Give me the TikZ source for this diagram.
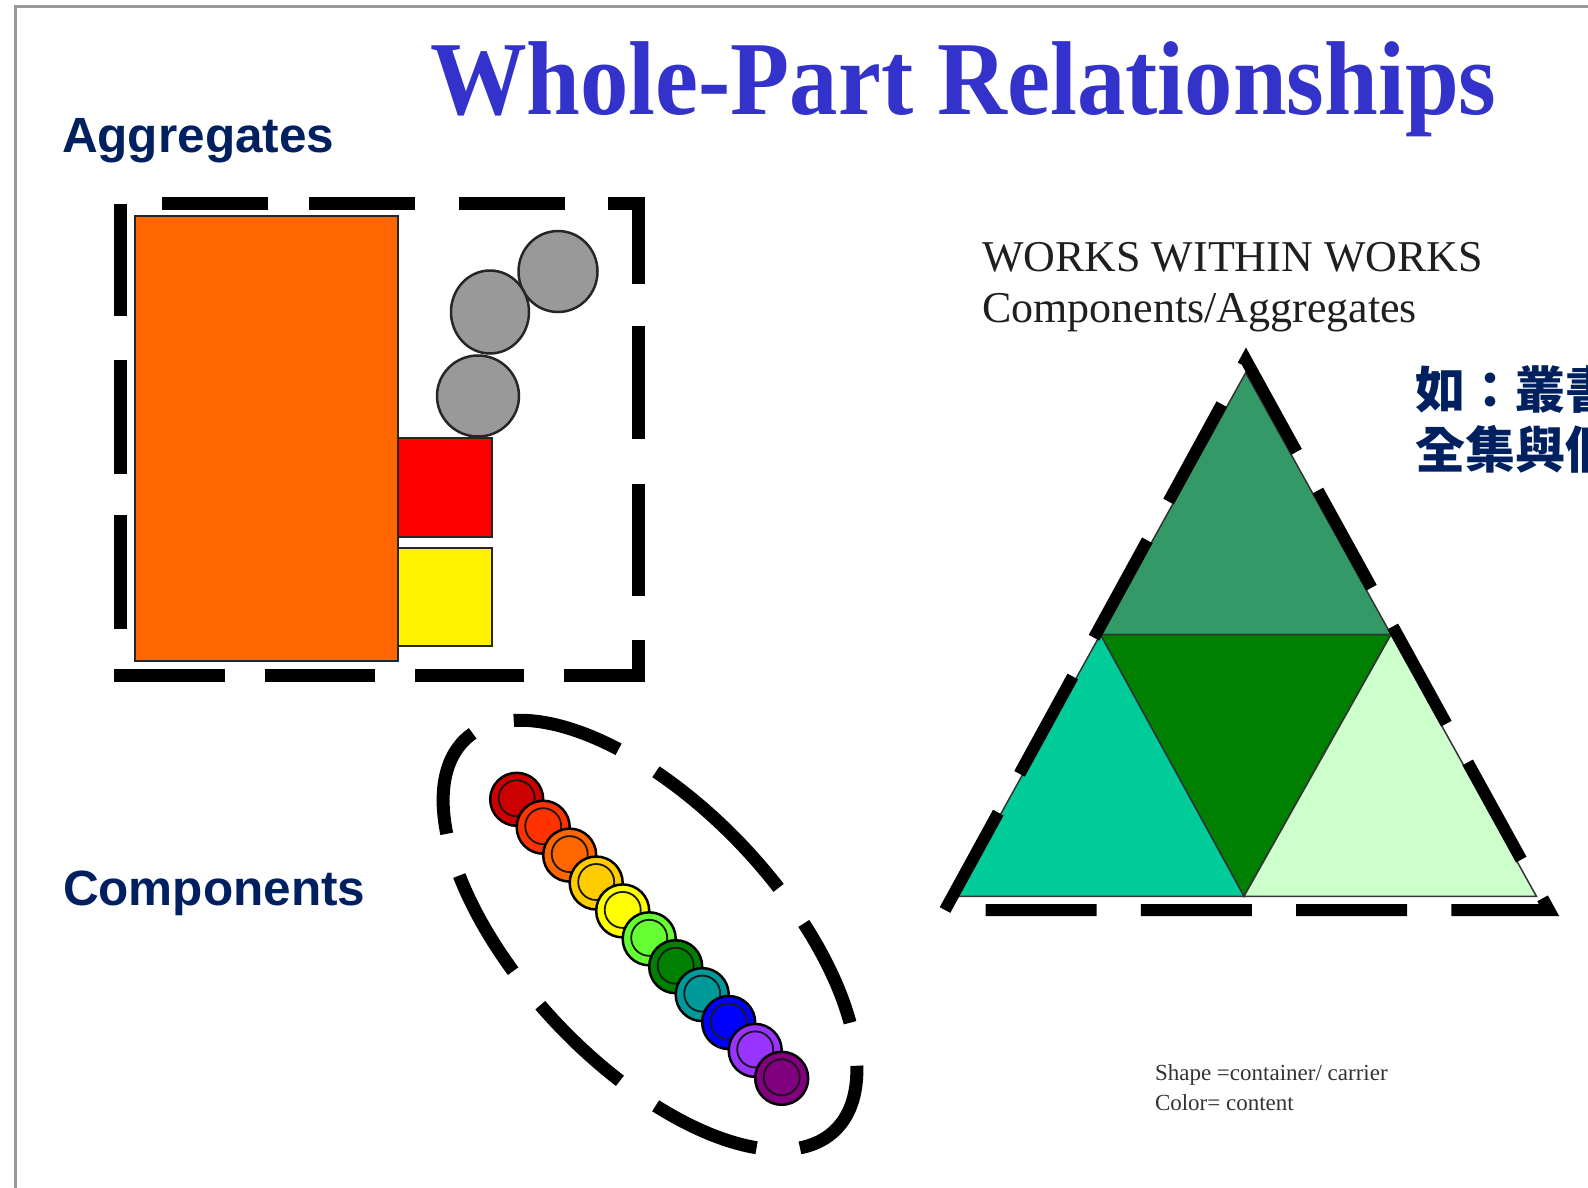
\documentclass[tikz,border=0pt]{standalone}
\usepackage{fontspec}
\setmainfont{Liberation Serif}
\setsansfont{Liberation Sans}
\newfontfamily\cjkfont{Noto Sans CJK TC}
\usetikzlibrary{calc}
\definecolor{titleblue}{RGB}{51,51,204}
\definecolor{navy}{RGB}{0,32,96}
\definecolor{orangebox}{RGB}{255,102,0}
\definecolor{grayball}{RGB}{153,153,153}
\definecolor{tritop}{RGB}{51,153,102}
\definecolor{trimid}{RGB}{0,128,0}
\definecolor{trileft}{RGB}{0,204,153}
\definecolor{triright}{RGB}{204,255,204}
\definecolor{bA}{RGB}{204,0,0}
\definecolor{bB}{RGB}{255,51,0}
\definecolor{bC}{RGB}{255,102,0}
\definecolor{bD}{RGB}{255,204,0}
\definecolor{bE}{RGB}{255,255,0}
\definecolor{bF}{RGB}{102,255,51}
\definecolor{bG}{RGB}{0,128,0}
\definecolor{bH}{RGB}{0,153,153}
\definecolor{bI}{RGB}{0,0,255}
\definecolor{bJ}{RGB}{153,51,255}
\definecolor{bK}{RGB}{128,0,128}
\tikzset{
  dashline/.style={line width=13pt, line join=miter,
    dash pattern=on 110.8pt off 40.6pt on 109.3pt off 40.5pt on 108.4pt off 40.5pt on 109.4pt off 44.5pt
      on 111.4pt off 45.6pt on 112.4pt off 42.5pt on 110.4pt off 42.6pt on 106.3pt off 43.6pt
      on 106.3pt off 40.5pt on 106.4pt off 41.5pt on 112.4pt off 43.5pt on 114.5pt off 40.5pt
      on 114pt off 60pt},
  partbox/.style={draw=black!85, line width=2pt},
  ball/.style={draw=black!85, line width=2.5pt, fill=grayball},
  tri/.style={draw=black!80, line width=1.5pt},
  beadout/.style={draw=black, line width=2.5pt},
  beadin/.style={draw=black!90, line width=1.8pt},
  lbl/.style={anchor=base west, inner sep=0pt, outer sep=0pt},
}
\begin{document}
\begin{tikzpicture}[x=1pt,y=-1pt]
\useasboundingbox (0,0) rectangle (1588,1187);
\clip (0,0) rectangle (1588,1187);
\fill[white] (0,0) rectangle (1588,1187);
% slide frame
\draw[gray!80, line width=3pt] (15,1195) -- (15,6) -- (1595,6);

% title
\node[lbl, text=titleblue, font=\rmfamily\bfseries\fontsize{105}{105}\selectfont] (title) at (430,114)
  {\scalebox{0.921}[1]{Whole-Part Relationships}};
\node[lbl, text=navy, font=\sffamily\bfseries\fontsize{49.5}{49.5}\selectfont] (agg) at (62,152) {Aggregates};
\node[lbl, text=navy, font=\sffamily\bfseries\fontsize{49.5}{49.5}\selectfont] (comp) at (63,905) {Components};

% aggregates box
\draw[partbox, fill=orangebox] (134.7,215.7) rectangle (398,661);
\draw[partbox, fill=red] (398,437.5) rectangle (492,537);
\draw[partbox, fill=yellow] (398,548) rectangle (492,646);
\draw[ball] (558,271.5) ellipse [x radius=39.5, y radius=40.5];
\draw[ball] (490,312) ellipse [x radius=39, y radius=41.5];
\draw[ball] (478,396) ellipse [x radius=41, y radius=40.5];
\coordinate (rbl0) at (114,675.5);
\coordinate (rbl) at (120.5,675.5);
\coordinate (rbr) at (638,675.5);
\coordinate (rtr) at (638,203.6);
\coordinate (rtl) at (120.5,203.6);
\draw[dashline] (rbl0) -- (rbr) -- (rtr) -- (rtl) -- (rbl);

% components: beads in dashed ellipse
\draw[line width=13pt, dash pattern=on 110pt off 43.6pt]
  plot[domain=258:618, samples=240, variable=\t]
  ({650 + 269*cos(\t)*0.686 - 128.5*sin(\t)*0.728},
   {935 + 269*cos(\t)*0.728 + 128.5*sin(\t)*0.686});
\foreach \c [count=\i from 0] in {bA,bB,bC,bD,bE,bF,bG,bH,bI,bJ,bK}{
  \coordinate (bead\i) at ({516.7+26.5*\i},{799.3+27.9*\i});
  \draw[beadout, fill=\c] (bead\i) circle (26.5);
  \draw[beadin, fill=\c] ($(bead\i)+(0,-1)$) circle (18);
}

% works within works
\node[lbl, text=black!88, font=\rmfamily\fontsize{44}{44}\selectfont] (works) at (982,271.5) {WORKS WITHIN WORKS};
\node[lbl, text=black!88, font=\rmfamily\fontsize{44}{44}\selectfont] (compagg) at (982,322) {Components/Aggregates};

% triangle
\coordinate (A) at (1245.7,372.7);
\coordinate (BL) at (955,896.3);
\coordinate (BR) at (1536.4,896.3);
\coordinate (ML) at (1100.4,634.5);
\coordinate (MR) at (1391,634.5);
\coordinate (MB) at (1244,896.3);
\draw[tri, fill=tritop] (A) -- (ML) -- (MR) -- cycle;
\draw[tri, fill=trimid] (ML) -- (MR) -- (MB) -- cycle;
\draw[tri, fill=trileft] (ML) -- (BL) -- (MB) -- cycle;
\draw[tri, fill=triright] (MR) -- (MB) -- (BR) -- cycle;
\coordinate (oA) at (1246,360);
\coordinate (oBL) at (945,910);
\coordinate (oBR) at (1549,910);
\draw[line width=12pt, dash pattern=on 111pt off 44.2pt, line join=miter] (oBL) -- (oA) -- (oBR) -- cycle;

% chinese note (cut off at the right edge, as in the reference)
\node[lbl, text=navy, font=\cjkfont\bfseries\fontsize{50}{50}\selectfont] (note1) at (1415,408) {如：叢書};
\node[lbl, text=navy, font=\cjkfont\bfseries\fontsize{50}{50}\selectfont] (note2) at (1415,468) {全集與個};

% legend
\node[lbl, text=black!80, font=\rmfamily\fontsize{23}{23}\selectfont] (leg1) at (1155,1080) {Shape =container/ carrier};
\node[lbl, text=black!80, font=\rmfamily\fontsize{23}{23}\selectfont] (leg2) at (1155,1110) {Color= content};
\end{tikzpicture}
\end{document}
